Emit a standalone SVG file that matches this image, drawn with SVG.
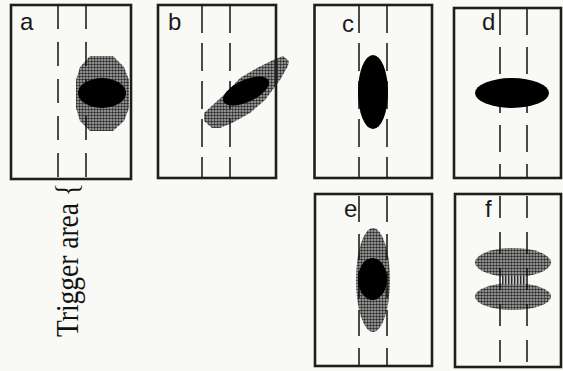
<svg xmlns="http://www.w3.org/2000/svg" width="563" height="371" viewBox="0 0 563 371">
<defs>
<pattern id="dots" patternUnits="userSpaceOnUse" width="3" height="3">
<rect width="3" height="3" fill="#b4b4b4"/>
<circle cx="1.5" cy="1.5" r="1.25" fill="#2a2a2a"/>
</pattern>
<pattern id="vstripes" patternUnits="userSpaceOnUse" width="3" height="3">
<rect width="3" height="3" fill="#c8c8c8"/>
<rect x="1" width="1.4" height="3" fill="#2a2a2a"/>
</pattern>
</defs>
<style>
.box{fill:none;stroke:#1e1e1e;stroke-width:2.6}
.dash{stroke:#111;stroke-width:1.5;fill:none}
.halo{fill:url(#dots)}
.blk{fill:#000}
.lbl{font-family:"Liberation Sans",Arial,sans-serif;font-size:24px;fill:#1a1a1a}
.trig{font-family:"Liberation Serif","Times New Roman",serif;font-size:32px;fill:#111}
</style>
<rect width="563" height="371" fill="#f9f9f6"/>

<g id="panel-a">
<polygon class="halo" points="90,56 113,56 124,67 129,80 129,108 124,121 113,131 90,131 80,121 76,108 76,80 80,67"/>
<line class="dash" x1="58" y1="5" x2="58" y2="179" stroke-dasharray="24,13"/>
<line class="dash" x1="86" y1="5" x2="86" y2="179" stroke-dasharray="24,13"/>
<ellipse class="blk" cx="102" cy="93" rx="24" ry="15"/>
<rect class="box" x="11" y="5" width="120" height="174"/>
<text class="lbl" x="20" y="30">a</text>
</g>

<g id="panel-b">
<polygon class="halo" points="204,113 215,103 227,92 240,78 257,68 273,60 283,56 289,61 288,66 280,80 265,100 250,113 232,123 220,128 212,128 204,121"/>
<line class="dash" x1="202" y1="5" x2="202" y2="178" stroke-dasharray="28,10"/>
<line class="dash" x1="230" y1="5" x2="230" y2="178" stroke-dasharray="28,10"/>
<ellipse class="blk" cx="246" cy="91" rx="25" ry="11" transform="rotate(-25 246 91)"/>
<rect class="box" x="158" y="5" width="118" height="173"/>
<text class="lbl" x="168" y="30">b</text>
</g>

<g id="panel-c">
<line class="dash" x1="359" y1="5" x2="359" y2="178" stroke-dasharray="28,10"/>
<line class="dash" x1="387" y1="5" x2="387" y2="178" stroke-dasharray="28,10"/>
<ellipse class="blk" cx="373" cy="92" rx="15" ry="37"/>
<rect class="box" x="314.5" y="5" width="117.5" height="173"/>
<text class="lbl" x="342" y="32">c</text>
</g>

<g id="panel-d">
<line class="dash" x1="500" y1="8" x2="500" y2="178" stroke-dasharray="27,12"/>
<line class="dash" x1="527" y1="8" x2="527" y2="178" stroke-dasharray="27,12"/>
<ellipse class="blk" cx="512" cy="93" rx="37" ry="15"/>
<rect class="box" x="454" y="8" width="107" height="170"/>
<text class="lbl" x="482" y="30">d</text>
</g>

<g id="panel-e">
<ellipse class="halo" cx="373" cy="280" rx="17" ry="52"/>
<line class="dash" x1="359" y1="196" x2="359" y2="366" stroke-dasharray="26,12"/>
<line class="dash" x1="387" y1="196" x2="387" y2="366" stroke-dasharray="26,12"/>
<ellipse class="blk" cx="372.5" cy="279" rx="14.5" ry="21"/>
<rect class="box" x="315" y="194" width="117" height="172"/>
<text class="lbl" x="344" y="217">e</text>
</g>

<g id="panel-f">
<ellipse class="halo" cx="513" cy="262.5" rx="38" ry="14.5"/>
<ellipse class="halo" cx="513" cy="296.5" rx="38" ry="13.5"/>
<rect x="502" y="276" width="24" height="8" fill="url(#vstripes)"/>
<line class="dash" x1="500" y1="196" x2="500" y2="367" stroke-dasharray="22,14"/>
<line class="dash" x1="527" y1="196" x2="527" y2="367" stroke-dasharray="22,14"/>
<rect class="box" x="455" y="194" width="106" height="173"/>
<text class="lbl" x="485" y="217">f</text>
</g>

<g id="trigger-label">
<text class="trig" transform="translate(78,337) rotate(-90)" x="0" y="0" textLength="154" lengthAdjust="spacingAndGlyphs">Trigger area {</text>
</g>
</svg>
